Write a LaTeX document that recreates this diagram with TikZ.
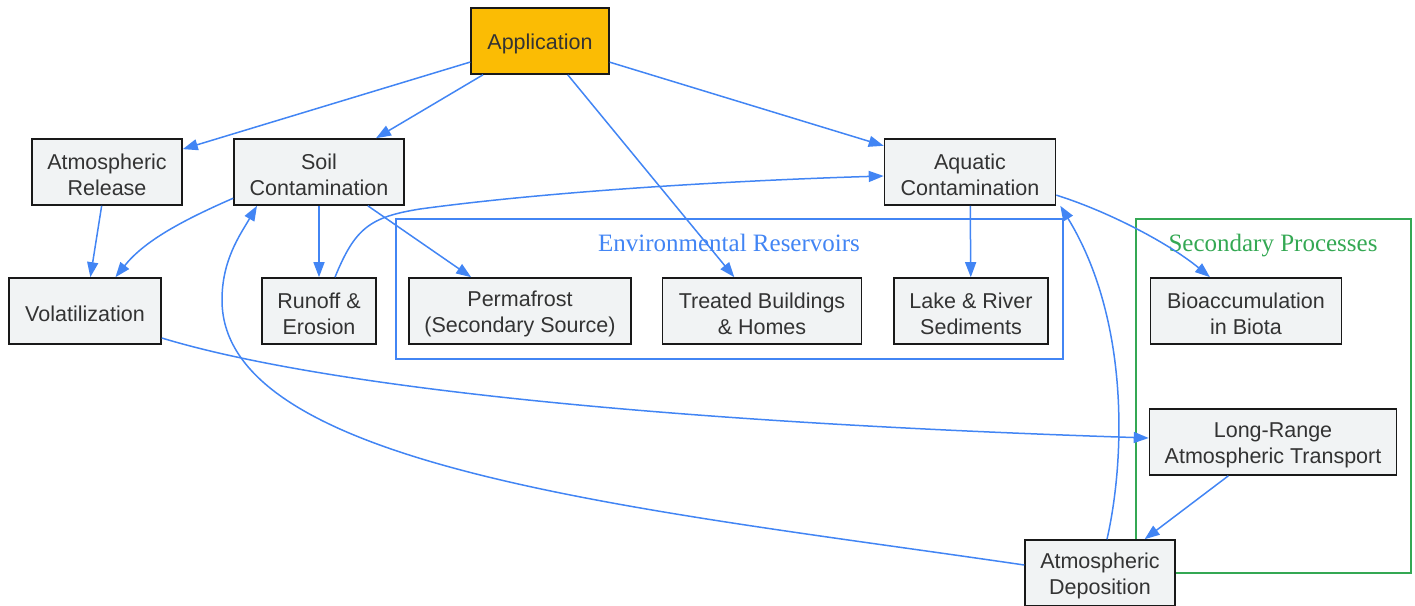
\documentclass[tikz,border=0pt]{standalone}
\usepackage{fontspec}
\setmainfont{Liberation Sans}
\newfontfamily\clfont{Liberation Serif}
\usetikzlibrary{arrows.meta}
\definecolor{edgeblue}{HTML}{4285F4}
\definecolor{clgreen}{HTML}{34A853}
\definecolor{appfill}{HTML}{FBBC04}
\definecolor{nodefill}{HTML}{F1F3F4}
\definecolor{txt}{HTML}{333333}
\newcommand{\topst}{\rule{0pt}{21pt}}
\begin{document}
\begin{tikzpicture}[x=1pt,y=-1pt,
  box/.style={draw=black!90, line width=1.6pt, fill=nodefill, text=txt, align=center,
    inner sep=0pt, minimum height=66pt, font=\fontsize{21.5}{26}\selectfont},
  flow/.style={draw=edgeblue, line width=1.5pt, -{Triangle[length=15pt,width=11pt]}},
  cluster/.style={line width=1.5pt},
  cllabel/.style={font=\clfont\fontsize{25}{30}\selectfont, anchor=base, inner sep=0pt}]
\useasboundingbox (0,0) rectangle (1415,605);

% clusters
\draw[cluster, draw=edgeblue] (396,219) rectangle (1063,359);
\draw[cluster, draw=clgreen] (1136,219) rectangle (1411,573);
\node[cllabel, text=edgeblue] (envlabel) at (729,251) {Environmental Reservoirs};
\node[cllabel, text=clgreen] (seclabel) at (1273,251) {Secondary Processes};

% nodes
\node[box, fill=appfill, minimum width=138pt] (app) at (540,41) {\topst Application};
\node[box, minimum width=150pt] (atm) at (107,172) {\topst Atmospheric\\Release};
\node[box, minimum width=170pt] (soil) at (319,172) {\topst Soil\\Contamination};
\node[box, minimum width=171pt] (aqua) at (970,172) {\topst Aquatic\\Contamination};
\node[box, minimum width=152pt] (vol) at (85,311) {\topst Volatilization};
\node[box, minimum width=114pt] (runoff) at (319,311) {\topst Runoff \&\\Erosion};
\node[box, minimum width=222pt] (perm) at (520,311) {\topst Permafrost\\(Secondary Source)};
\node[box, minimum width=199pt] (treat) at (762,311) {\topst Treated Buildings\\\& Homes};
\node[box, minimum width=154pt] (lake) at (971,311) {\topst Lake \& River\\Sediments};
\node[box, minimum width=191pt] (bio) at (1246,311) {\topst Bioaccumulation\\in Biota};
\node[box, minimum width=247pt] (longr) at (1273,442) {\topst Long-Range\\Atmospheric Transport};
\node[box, minimum width=150pt] (dep) at (1100,573) {\topst Atmospheric\\Deposition};

% connectors
\draw[flow] (app) -- (atm);
\draw[flow] (app) -- (soil);
\draw[flow] (app) -- (treat);
\draw[flow] (app) -- (aqua);
\draw[flow] (atm) -- (vol);
\draw[flow] (soil.197) .. controls +(-55,24) and +(28,-35) .. (vol.48);
\draw[flow] (soil) -- (runoff);
\draw[flow] (soil) -- (perm);
\draw[flow] ([xshift=16pt]runoff.north) .. controls (355,228) and (370,217) .. (420,209)
  .. controls (560,190) and (750,180) .. ([yshift=-4pt]aqua.west);
\draw[flow] (aqua) -- (lake);
\draw[flow] (aqua.345) .. controls +(54,17) and +(-40,-33) .. ([xshift=-36pt]bio.north);
\draw[flow] ([yshift=-27pt]vol.east) .. controls (300,380) and (600,420) .. ([yshift=4pt]longr.west);
\draw[flow] (longr) -- (dep);
\draw[flow] ([yshift=8pt]dep.west) .. controls (650,510) and (222,470) .. (222,300)
  .. controls (222,260) and (240,235) .. ([xshift=-62pt]soil.south);
\draw[flow] ([xshift=7pt]dep.north) .. controls (1125,460) and (1130,320) .. ([xshift=4pt]aqua.south east);
\end{tikzpicture}
\end{document}
